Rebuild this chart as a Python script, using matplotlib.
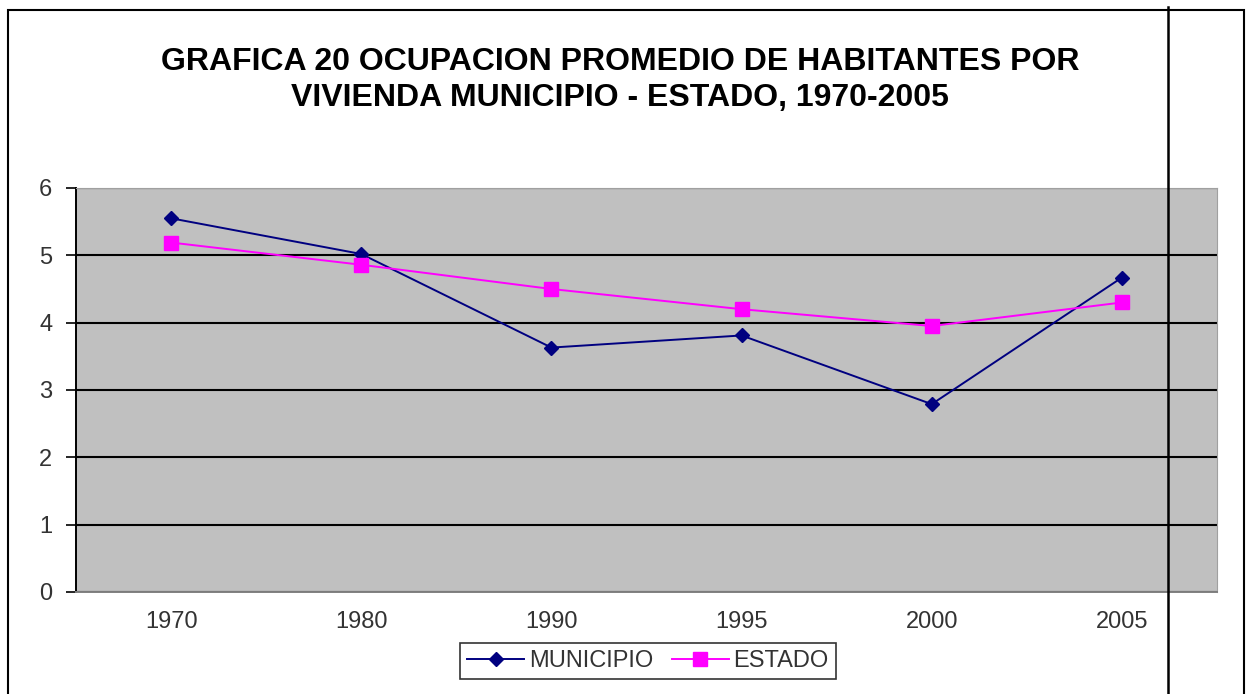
import matplotlib.pyplot as plt
import matplotlib.lines as mlines
import matplotlib.patches as mpatches
import numpy as np

plt.rcParams['font.family'] = ['Liberation Sans', 'DejaVu Sans']

# data
years = ['1970', '1980', '1990', '1995', '2000', '2005']
municipio = [5.55, 5.02, 3.63, 3.81, 2.79, 4.67]
estado = [5.19, 4.86, 4.50, 4.20, 3.95, 4.30]

W, H = 1246, 694
fig = plt.figure(figsize=(W / 100, H / 100), dpi=100)
fig.patch.set_facecolor('white')

ax = fig.add_axes([76 / W, 1 - 592 / H, (1217 - 76) / W, (592 - 188) / H])
ax.set_facecolor('#c0c0c0')

x = np.arange(len(years))
ax.plot(x, municipio, color='#000080', lw=1.4, marker='D', ms=7,
        mfc='#000080', mec='#000080', label='MUNICIPIO', zorder=3)
ax.plot(x, estado, color='#ff00ff', lw=1.4, marker='s', ms=10,
        mfc='#ff00ff', mec='#ff00ff', label='ESTADO', zorder=3)

ax.set_xlim(-0.5, len(years) - 0.5)
ax.set_ylim(0, 6)
ax.set_yticks(range(0, 7))
ax.set_xticks(x)
ax.set_xticklabels(years)
ax.yaxis.grid(True, color='black', lw=1.5)
ax.set_axisbelow(True)
ax.tick_params(axis='y', direction='out', length=7, width=1.2, color='black',
               labelsize=17, labelcolor='#333333', pad=10)
ax.tick_params(axis='x', length=0, labelsize=17, labelcolor='#333333', pad=14)

ax.spines['left'].set_color('black')
ax.spines['left'].set_linewidth(1.4)
ax.spines['bottom'].set_color('#808080')
ax.spines['bottom'].set_linewidth(1.4)
ax.spines['top'].set_color('#a0a0a0')
ax.spines['right'].set_color('#a0a0a0')

fig.text(620 / W, 1 - 62 / H, 'GRAFICA 20 OCUPACION PROMEDIO DE HABITANTES POR',
         ha='center', va='center', fontsize=23, fontweight='bold')
fig.text(620 / W, 1 - 98 / H, 'VIVIENDA MUNICIPIO - ESTADO, 1970-2005',
         ha='center', va='center', fontsize=23, fontweight='bold')

leg = fig.legend(loc='center', bbox_to_anchor=(648 / W, 1 - 661 / H), ncol=2,
                 fontsize=17, frameon=True, fancybox=False, handlelength=2.4,
                 columnspacing=0.8, handletextpad=0.2, borderpad=0.3)
leg.get_frame().set_edgecolor('black')
leg.get_frame().set_linewidth(1.2)
for t in leg.get_texts():
    t.set_color('#333333')

# page border and the stray vertical line
fig.patches.append(mpatches.Rectangle((8 / W, -0.05), (1244 - 8) / W, 1 - 10 / H + 0.05,
                                      transform=fig.transFigure, fill=False,
                                      edgecolor='black', lw=1.5))
fig.lines.append(mlines.Line2D([1168 / W, 1168 / W], [0, 1 - 7 / H],
                               transform=fig.transFigure, color='black', lw=1.8))

fig.savefig('out.png', dpi=100)
